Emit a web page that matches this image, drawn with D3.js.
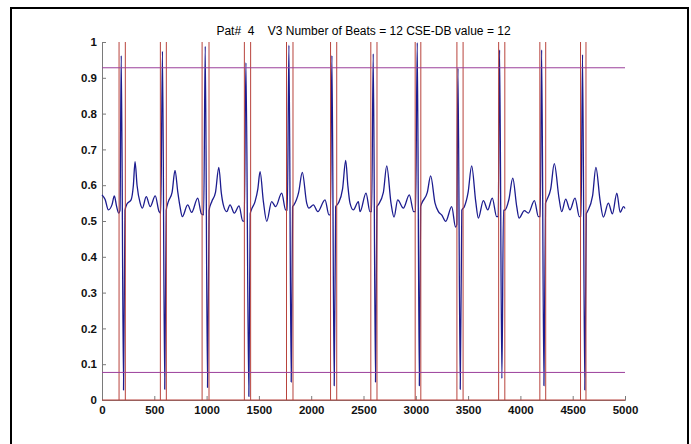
<!DOCTYPE html>
<html>
<head>
<meta charset="utf-8">
<script src="https://cdn.jsdelivr.net/npm/d3@7"></script>
<style>
  html, body { margin: 0; padding: 0; background: #fff; }
  svg { display: block; font-family: "Liberation Sans", Arial, sans-serif; }
</style>
</head>
<body>
<svg id="chart" width="691" height="444"></svg>
<script>
/* ---------- data ------------------------------------------------- */
const titleText = "Pat#  4    V3 Number of Beats = 12 CSE-DB value = 12";

const xTicks = [0, 500, 1000, 1500, 2000, 2500, 3000, 3500, 4000, 4500, 5000];
const yTicks = [0, 0.1, 0.2, 0.3, 0.4, 0.5, 0.6, 0.7, 0.8, 0.9, 1];

// detection thresholds (purple)
const thresholds = [0.928, 0.077];

// beat window borders (red), sample index
const beatWindows = [
  [163, 223], [558, 615], [957, 1023], [1361, 1421],
  [1764, 1826], [2185, 2244], [2570, 2629], [2994, 3048],
  [3393, 3452], [3792, 3851], [4186, 4242], [4575, 4627]
];

// ECG trace, [sample, amplitude]
const ecg = [
  [0,0.573],[30,0.56],[61,0.531],[95,0.545],[118,0.570],[140,0.54],[160,0.522],
  [172,0.53],[184,0.962],[206,0.028],[220,0.53],
  [240,0.548],[278,0.559],[300,0.6],[316,0.666],[335,0.6],[365,0.55],[386,0.536],[423,0.568],[461,0.540],[509,0.570],[545,0.527],
  [562,0.522],[578,0.974],[600,0.030],[614,0.53],
  [634,0.554],[670,0.58],[698,0.641],[725,0.58],[746,0.540],[768,0.512],[819,0.545],[857,0.524],[915,0.564],[950,0.52],
  [972,0.517],[987,0.988],[1009,0.035],[1024,0.53],
  [1049,0.554],[1085,0.58],[1117,0.650],[1140,0.58],[1160,0.545],[1192,0.526],[1224,0.545],[1265,0.522],[1310,0.542],[1345,0.50],
  [1360,0.499],[1376,0.942],[1404,0.010],[1417,0.52],
  [1428,0.531],[1463,0.554],[1490,0.59],[1511,0.638],[1543,0.554],[1575,0.499],[1622,0.554],[1660,0.540],[1718,0.578],[1755,0.531],
  [1772,0.53],[1787,0.991],[1809,0.05],[1822,0.54],
  [1835,0.545],[1880,0.58],[1915,0.636],[1957,0.550],[1979,0.536],[2021,0.545],[2063,0.526],[2132,0.559],[2170,0.517],
  [2184,0.517],[2198,0.962],[2220,0.04],[2234,0.54],
  [2260,0.550],[2300,0.59],[2330,0.669],[2350,0.6],[2371,0.550],[2403,0.531],[2451,0.554],[2467,0.526],[2524,0.578],[2562,0.526],
  [2578,0.526],[2593,0.967],[2615,0.05],[2628,0.54],
  [2640,0.545],[2690,0.58],[2722,0.654],[2763,0.550],[2792,0.511],[2827,0.559],[2881,0.536],[2938,0.573],[2980,0.526],
  [2998,0.526],[3014,0.998],[3034,0.04],[3046,0.54],
  [3058,0.550],[3110,0.58],[3142,0.626],[3184,0.550],[3216,0.526],[3247,0.517],[3286,0.499],[3343,0.540],[3380,0.483],
  [3392,0.49],[3403,0.927],[3425,0.03],[3440,0.53],
  [3464,0.540],[3500,0.58],[3534,0.654],[3573,0.554],[3598,0.508],[3646,0.557],[3688,0.531],[3731,0.564],[3773,0.512],
  [3788,0.512],[3801,0.978],[3823,0.06],[3838,0.53],
  [3850,0.53],[3890,0.56],[3927,0.620],[3965,0.540],[3987,0.508],[4038,0.529],[4076,0.522],[4134,0.557],[4172,0.512],
  [4190,0.512],[4203,0.978],[4225,0.04],[4240,0.55],
  [4253,0.559],[4290,0.59],[4324,0.660],[4369,0.564],[4395,0.526],[4433,0.561],[4474,0.531],[4522,0.564],[4564,0.512],
  [4580,0.512],[4594,0.965],[4616,0.028],[4630,0.52],
  [4640,0.526],[4690,0.57],[4722,0.650],[4761,0.559],[4793,0.511],[4841,0.550],[4880,0.520],[4922,0.578],[4954,0.524],[4986,0.540],[5000,0.535]
];

/* ---------- layout ------------------------------------------------ */
const svg = d3.select("#chart");
const plot = {left: 102, right: 625, top: 42, bottom: 400};

const x = d3.scaleLinear().domain([0, 5000]).range([plot.left, plot.right]);
const y = d3.scaleLinear().domain([0, 1]).range([plot.bottom, plot.top]);

const AXIS = "#7a7a7a", BLUE = "#1c1c8f", RED = "#b8433c", PURPLE = "#9b3f9b";

// figure frame
svg.append("rect")
   .attr("x", 11).attr("y", 8)
   .attr("width", 677).attr("height", 460)
   .attr("fill", "none").attr("stroke", "#000").attr("stroke-width", 2);

// title
svg.append("text")
   .attr("x", (plot.left + plot.right) / 2).attr("y", 35)
   .attr("text-anchor", "middle")
   .attr("font-size", 12)
   .attr("fill", "#000")
   .attr("xml:space", "preserve")
   .style("white-space", "pre")
   .text(titleText);

/* ---------- axes (matlab style, ticks inside) -------------------- */
const gx = svg.append("g")
   .attr("transform", `translate(0,${plot.bottom})`)
   .call(d3.axisTop(x).tickValues(xTicks).tickSize(4).tickFormat(d3.format("d")));
gx.select(".domain").attr("stroke", AXIS);
gx.selectAll(".tick line").attr("stroke", AXIS);
gx.selectAll(".tick text")
  .attr("y", 14).attr("dy", 0)
  .attr("font-size", 11.5).attr("font-weight", "bold")
  .attr("font-family", "Liberation Sans, Arial, sans-serif")
  .attr("fill", "#111");

const gy = svg.append("g")
   .attr("transform", `translate(${plot.left},0)`)
   .call(d3.axisRight(y).tickValues(yTicks).tickSize(4).tickFormat(d3.format("~g")));
gy.select(".domain").attr("stroke", AXIS);
gy.selectAll(".tick line").attr("stroke", AXIS);
gy.selectAll(".tick text")
  .attr("x", -5).attr("text-anchor", "end")
  .attr("font-size", 11.5).attr("font-weight", "bold")
  .attr("font-family", "Liberation Sans, Arial, sans-serif")
  .attr("fill", "#111");

/* ---------- ECG trace --------------------------------------------- */
const line = d3.line()
   .x(d => x(d[0]))
   .y(d => y(d[1]))
   .curve(d3.curveMonotoneX);

svg.append("path")
   .datum(ecg)
   .attr("d", line)
   .attr("fill", "none")
   .attr("stroke", BLUE)
   .attr("stroke-width", 1.3)
   .attr("stroke-linejoin", "round");

/* ---------- beat windows, thresholds, zero line ------------------ */
svg.append("g").selectAll("line")
   .data(beatWindows.flat())
   .join("line")
     .attr("x1", d => x(d)).attr("x2", d => x(d))
     .attr("y1", y(0)).attr("y2", y(1))
     .attr("stroke", RED).attr("stroke-width", 1);

svg.append("g").selectAll("line")
   .data(thresholds)
   .join("line")
     .attr("x1", x(0)).attr("x2", x(5000))
     .attr("y1", d => y(d)).attr("y2", d => y(d))
     .attr("stroke", PURPLE).attr("stroke-width", 1);

svg.append("line")
   .attr("x1", x(0)).attr("x2", x(5000))
   .attr("y1", y(0)).attr("y2", y(0))
   .attr("stroke", RED).attr("stroke-width", 1);
</script>
</body>
</html>
